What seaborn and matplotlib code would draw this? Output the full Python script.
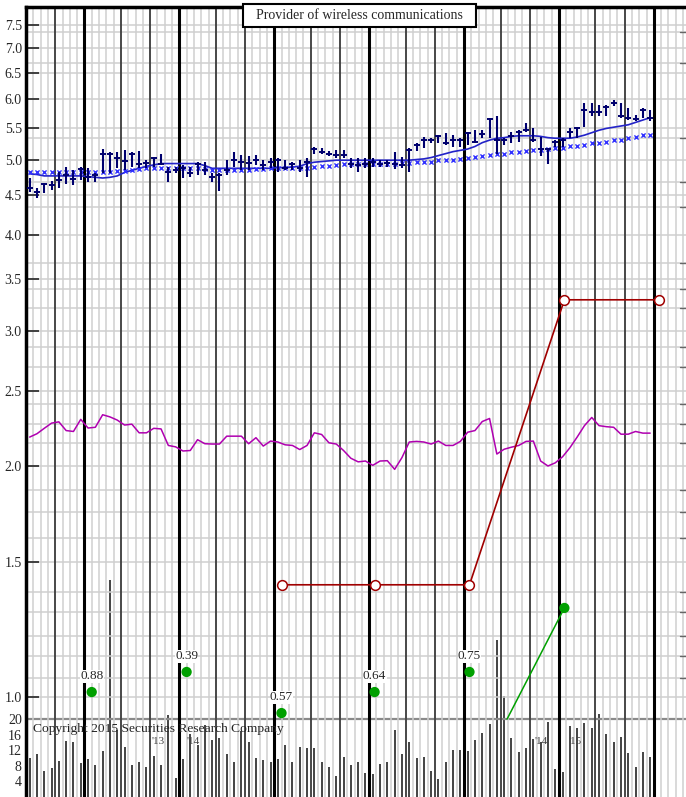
import numpy as np
import pandas as pd
import matplotlib
matplotlib.use('Agg')
import matplotlib.pyplot as plt
from matplotlib.patches import Rectangle
from matplotlib.ticker import FixedLocator, FixedFormatter, NullLocator
import seaborn as sns

sns.set_style('white')
plt.rcParams['font.family'] = ['Liberation Serif', 'DejaVu Serif']

# weekly price bars
high = [4.74, 4.60, 4.67, 4.70, 4.83, 4.90, 4.86, 4.90, 4.88, 4.81,
        5.17, 5.13, 5.12, 5.16, 5.12, 5.14, 5.01, 5.05, 5.10, 4.90,
        4.90, 4.93, 4.90, 4.97, 4.97, 4.81, 4.81, 5.01, 5.12, 5.08,
        5.06, 5.08, 5.01, 5.04, 5.03, 5.01, 4.97, 5.00, 5.03, 5.20,
        5.18, 5.14, 5.16, 5.16, 5.03, 5.03, 5.03, 5.03, 5.00, 5.00,
        5.13, 5.05, 5.18, 5.26, 5.36, 5.35, 5.40, 5.42, 5.39, 5.34,
        5.44, 5.47, 5.47, 5.67, 5.70, 5.34, 5.44, 5.47, 5.59, 5.50,
        5.36, 5.18, 5.31, 5.34, 5.50, 5.53, 5.93, 5.93, 5.90, 5.90,
        5.99, 5.93, 5.84, 5.73, 5.84, 5.81]
low = [4.55, 4.46, 4.53, 4.57, 4.60, 4.66, 4.64, 4.71, 4.69, 4.69,
       4.81, 4.81, 4.88, 4.86, 4.90, 4.88, 4.88, 4.90, 4.93, 4.69,
       4.81, 4.74, 4.76, 4.78, 4.78, 4.69, 4.56, 4.78, 4.90, 4.86,
       4.86, 4.93, 4.86, 4.88, 4.83, 4.86, 4.86, 4.83, 4.76, 5.10,
       5.10, 5.06, 5.03, 5.03, 4.88, 4.83, 4.89, 4.90, 4.90, 4.90,
       4.87, 4.89, 4.83, 5.14, 5.18, 5.26, 5.27, 5.23, 5.20, 5.20,
       5.23, 5.26, 5.34, 5.34, 5.10, 5.23, 5.26, 5.28, 5.44, 5.28,
       5.06, 4.95, 5.20, 5.20, 5.34, 5.34, 5.53, 5.70, 5.70, 5.70,
       5.89, 5.67, 5.64, 5.62, 5.67, 5.62]
close = [4.60, 4.55, 4.66, 4.64, 4.71, 4.79, 4.72, 4.87, 4.76, 4.78,
         5.09, 5.09, 5.03, 4.99, 5.10, 4.95, 4.96, 5.04, 4.94, 4.83,
         4.86, 4.88, 4.81, 4.95, 4.86, 4.75, 4.78, 4.86, 5.00, 4.97,
         4.96, 5.00, 4.93, 4.97, 5.00, 4.88, 4.95, 4.88, 4.97, 5.17,
         5.13, 5.09, 5.08, 5.08, 4.94, 4.93, 4.95, 4.97, 4.95, 4.96,
         4.95, 4.93, 5.16, 5.23, 5.32, 5.31, 5.38, 5.26, 5.31, 5.32,
         5.42, 5.28, 5.41, 5.66, 5.31, 5.31, 5.37, 5.44, 5.48, 5.31,
         5.17, 5.17, 5.28, 5.31, 5.44, 5.50, 5.81, 5.78, 5.78, 5.87,
         5.94, 5.71, 5.67, 5.66, 5.81, 5.67]
# moving averages
ma_line = [4.80, 4.79, 4.77, 4.77, 4.77, 4.77, 4.77, 4.77, 4.76, 4.75,
           4.74, 4.75, 4.77, 4.82, 4.85, 4.88, 4.91, 4.93, 4.95, 4.95,
           4.95, 4.95, 4.95, 4.95, 4.92, 4.88, 4.88, 4.88, 4.88, 4.88,
           4.88, 4.88, 4.88, 4.88, 4.89, 4.89, 4.90, 4.91, 4.95, 4.97,
           4.98, 4.99, 5.00, 5.00, 5.00, 5.00, 5.00, 5.00, 5.00, 5.00,
           5.00, 5.00, 5.00, 5.01, 5.02, 5.04, 5.07, 5.10, 5.13, 5.15,
           5.17, 5.21, 5.27, 5.31, 5.34, 5.35, 5.37, 5.38, 5.38, 5.38,
           5.37, 5.35, 5.34, 5.34, 5.34, 5.36, 5.39, 5.43, 5.47, 5.50,
           5.52, 5.54, 5.56, 5.60, 5.64, 5.68]
ma_x = [4.82, 4.82, 4.82, 4.82, 4.82, 4.82, 4.82, 4.82, 4.82, 4.82,
        4.83, 4.83, 4.84, 4.84, 4.86, 4.87, 4.88, 4.88, 4.88, 4.88,
        4.88, 4.88, 4.88, 4.88, 4.87, 4.86, 4.85, 4.86, 4.86, 4.86,
        4.86, 4.87, 4.87, 4.88, 4.88, 4.88, 4.88, 4.88, 4.88, 4.90,
        4.91, 4.92, 4.93, 4.94, 4.94, 4.94, 4.94, 4.95, 4.95, 4.95,
        4.95, 4.96, 4.96, 4.97, 4.98, 4.98, 5.00, 5.01, 5.01, 5.02,
        5.03, 5.05, 5.06, 5.08, 5.10, 5.10, 5.12, 5.13, 5.14, 5.16,
        5.16, 5.17, 5.18, 5.18, 5.21, 5.22, 5.24, 5.26, 5.27, 5.28,
        5.31, 5.31, 5.34, 5.36, 5.39, 5.40]
# relative strength line
rs_line = [2.180, 2.202, 2.238, 2.273, 2.282, 2.223, 2.217, 2.299, 2.240, 2.245,
           2.331, 2.316, 2.294, 2.260, 2.266, 2.208, 2.208, 2.238, 2.234, 2.126,
           2.117, 2.091, 2.094, 2.163, 2.137, 2.135, 2.135, 2.186, 2.186, 2.186,
           2.137, 2.176, 2.122, 2.154, 2.148, 2.130, 2.126, 2.100, 2.126, 2.208,
           2.197, 2.143, 2.135, 2.094, 2.046, 2.024, 2.029, 2.003, 2.029, 2.031,
           1.979, 2.050, 2.148, 2.152, 2.148, 2.135, 2.154, 2.126, 2.126, 2.152,
           2.212, 2.223, 2.284, 2.305, 2.072, 2.102, 2.115, 2.126, 2.152, 2.154,
           2.029, 1.999, 2.018, 2.055, 2.111, 2.180, 2.256, 2.312, 2.256, 2.249,
           2.245, 2.199, 2.199, 2.217, 2.206, 2.206]
# weekly volume
volume = [10.1, 11.1, 6.7, 7.5, 9.2, 14.3, 14.1, 8.7, 9.8, 8.2,
          11.8, 55.6, 17.2, 12.7, 8.2, 9.1, 7.6, 10.6, 8.3, 20.9,
          4.8, 9.7, 16.2, 13.3, 18.5, 14.6, 15.2, 11.1, 9.0, 17.0,
          14.2, 9.9, 9.6, 9.0, 9.8, 13.3, 8.9, 12.9, 12.6, 12.5,
          8.9, 7.6, 5.4, 10.2, 8.2, 9.0, 6.2, 6.0, 8.4, 9.0,
          17.1, 11.0, 14.0, 10.0, 10.3, 6.6, 4.7, 9.1, 12.0, 12.0,
          11.9, 14.5, 16.5, 18.6, 40.3, 25.9, 15.1, 11.5, 12.5, 14.8,
          14.0, 19.2, 7.3, 6.4, 18.3, 17.7, 19.0, 17.7, 21.4, 16.2,
          14.2, 15.5, 11.2, 7.6, 11.5, 10.3]

# earnings (green) and dividends (red) quarterly points
eps_week = [9.0, 22.0, 35.0, 47.75, 60.75, 73.75]
eps_val = [1.015, 1.078, 0.953, 1.015, 1.078, 1.306]
eps_lbl = ['0.88', '0.39', '0.57', '0.64', '0.75', '']
div_week = [35.0, 47.75, 60.75, 73.75, 86.75]
div_val = [1.40, 1.40, 1.40, 3.29, 3.29]

price_ticks = [1.0, 1.5, 2.0, 2.5, 3.0, 3.5, 4.0, 4.5, 5.0, 5.5, 6.0, 6.5, 7.0, 7.5]
grid_minor = [7.35, 6.69, 5.34, 4.68, 4.35, 3.67, 3.40, 3.21, 2.86, 2.69, 2.41,
              2.27, 2.14, 1.86, 1.74, 1.61, 1.37, 1.29, 1.20, 1.13, 1.06]
vol_ticks = [4, 8, 12, 16, 20]

wk = np.arange(len(close)) + 0.5
df = pd.DataFrame({'week': wk, 'high': high, 'low': low, 'close': close,
                   'ma': ma_line, 'max': ma_x, 'rs': rs_line, 'vol': volume})

fig = plt.figure(figsize=(6.86, 7.97), dpi=100)
ax = fig.add_axes([26 / 686, 0, 660 / 686, 790 / 797])
ax.set_yscale('log')
ax.set_xlim(0, 660 / 7.3)
ax.set_ylim(0.741, 7.915)

# vertical grid: weeks, months, quarters
for k in range(0, 91):
    ax.axvline(k, color='#cfcfcf', lw=1.1, zorder=0)
for q in range(-5, 90, 13):
    for off in (5, 9):
        if 0 < q + off < 91:
            ax.axvline(q + off, color='#303030', lw=1.2, zorder=0.5)
    if q > 0:
        ax.axvline(q, color='black', lw=2.2, zorder=0.6)
for p in price_ticks + grid_minor:
    ax.axhline(p, color='#cfcfcf', lw=1.1, zorder=0.2)
# short marks on the right edge
for p in grid_minor:
    ax.plot([89.6, 90.41], [p, p], color='#666666', lw=1.0, zorder=0.3)

# volume on its own scale
ax2 = ax.twinx()
ax2.set_ylim(0, 790 / 3.9)
ax2.vlines(df['week'], 0, df['vol'], color='#111111', lw=1.1, zorder=1)
ax2.axhline(20, color='#8a8a8a', lw=1.6)
ax2.yaxis.tick_left()
ax2.yaxis.set_major_locator(FixedLocator(vol_ticks))
ax2.yaxis.set_major_formatter(FixedFormatter([str(v) for v in vol_ticks]))
ax2.tick_params(axis='y', length=0, labelsize=10, pad=3)
for s in ax2.spines.values():
    s.set_visible(False)
ax.set_zorder(ax2.get_zorder() + 1)
ax.patch.set_visible(False)
ax2.patch.set_visible(True)
ax2.patch.set_facecolor('white')
fig.patch.set_facecolor('white')

# price bars
ax.vlines(df['week'], df['low'], df['high'], color='#00006e', lw=1.5, zorder=4)
ax.scatter(df['week'], df['close'], marker='_', s=22, color='#00006e', linewidths=1.4, zorder=4)
sns.lineplot(data=df, x='week', y='ma', ax=ax, color='#2323c8', lw=1.2, zorder=3)
sns.scatterplot(data=df, x='week', y='max', ax=ax, marker='x', s=9, color='#3030ff',
                linewidth=1.0, zorder=3)
sns.lineplot(data=df, x='week', y='rs', ax=ax, color='#b000b0', lw=1.1, zorder=3)

# dividends and earnings
ax.plot(div_week, div_val, color='#a00000', lw=1.2, marker='o', ms=7, mfc='white',
        mec='#a00000', mew=1.1, zorder=5)
ax.plot([65.9, eps_week[-1]], [0.936, eps_val[-1]], color='#00a000', lw=1.1, zorder=5)
sns.scatterplot(x=eps_week, y=eps_val, ax=ax, color='#00a000', s=55, edgecolor='none', zorder=6)
for w, v, t in zip(eps_week, eps_val, eps_lbl):
    if t:
        ax.annotate(t, (w, v), xytext=(0, 7), textcoords='offset points', ha='center',
                    va='bottom', fontsize=9.5,
                    bbox=dict(fc='white', ec='none', pad=0.3), zorder=6)

ax.yaxis.set_major_locator(FixedLocator(price_ticks))
ax.yaxis.set_major_formatter(FixedFormatter(['%.1f' % v for v in price_ticks]))
ax.yaxis.set_minor_locator(NullLocator())
ax.tick_params(axis='y', direction='in', length=9, width=1.2, labelsize=10, pad=3)
ax.set_xticks([])
ax.set_xlabel('')
ax.set_ylabel('')
ax2.set_ylabel('')
for side in ['right', 'bottom']:
    ax.spines[side].set_visible(False)
for side in ['left', 'top']:
    ax.spines[side].set_linewidth(2.5)
    ax.spines[side].set_color('black')

# title box and footnotes
fig.patches.append(Rectangle((243 / 686, 1 - 27 / 797), 233 / 686, 23 / 797,
                             transform=fig.transFigure, fc='white', ec='black', lw=1.5, zorder=10))
fig.text(359.5 / 686, 1 - 15.5 / 797, 'Provider of wireless communications', ha='center',
         va='center', fontsize=10, zorder=11)
fig.text(33 / 686, 1 - 729 / 797, 'Copyright 2015 Securities Research Company', ha='left',
         va='center', fontsize=9.7, color='#222222')
for x, t in [(158, "'13"), (193, "'14"), (541, "'14"), (575, "'15")]:
    fig.text(x / 686, 1 - 741 / 797, t, ha='center', va='center', fontsize=8, color='#444444')

fig.savefig('out.png', dpi=100, facecolor='white')
